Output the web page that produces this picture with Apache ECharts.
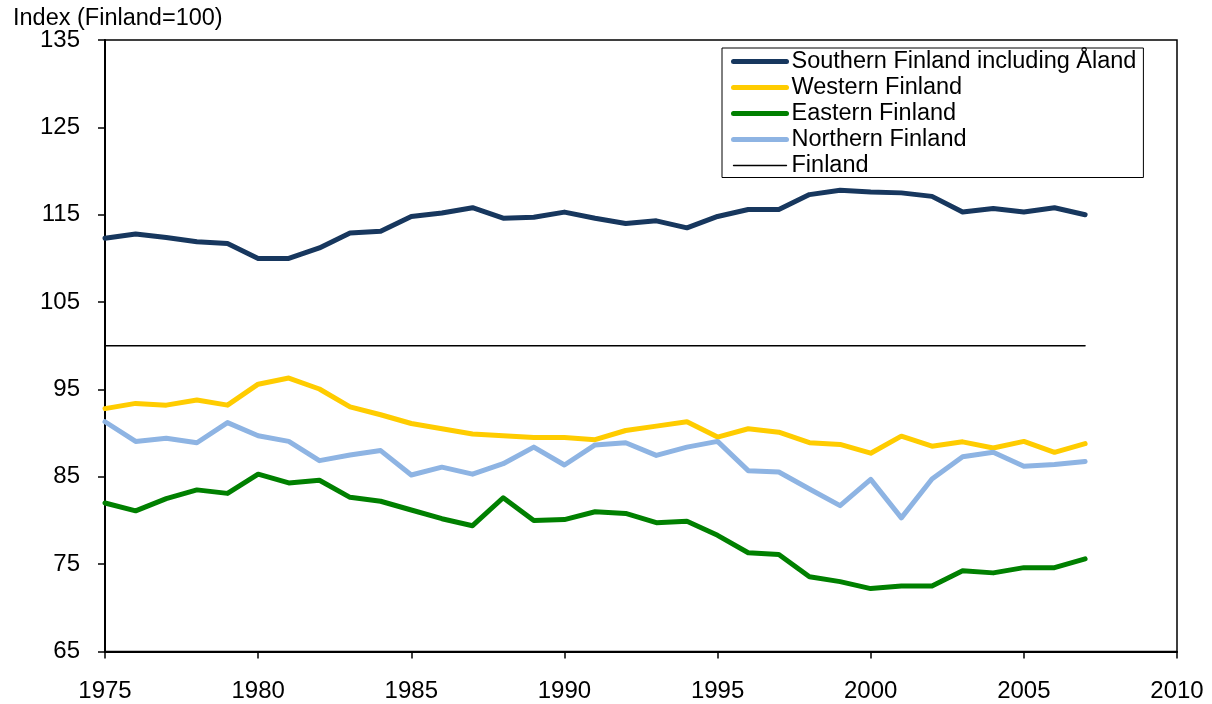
<!DOCTYPE html>
<html>
<head>
<meta charset="utf-8">
<script src="https://cdn.jsdelivr.net/npm/echarts@6/dist/echarts.min.js"></script>
<style>
    html, body { margin: 0; padding: 0; background: #fff; }
    #chart { width: 1212px; height: 704px; }
</style>
</head>
<body>
<div id="chart"></div>
<script>
const years = [];
for (let y = 1975; y <= 2007; y++) years.push(y);

const seriesNames = ['Southern Finland including Åland', 'Western Finland', 'Eastern Finland', 'Northern Finland', 'Finland'];

const southern = [112.3, 112.8, 112.4, 111.9, 111.7, 110.0, 110.0, 111.2, 112.9, 113.1, 114.8, 115.2, 115.8, 114.6, 114.7, 115.3,
    114.6, 114.0, 114.3, 113.5, 114.8, 115.6, 115.6, 117.3, 117.8, 117.6, 117.5, 117.1, 115.3, 115.7, 115.3, 115.8, 115.0];
const western = [92.8, 93.4, 93.2, 93.8, 93.2, 95.6, 96.3, 95.05, 93.0, 92.1, 91.1, 90.5, 89.9, 89.7, 89.5, 89.5,
    89.25, 90.3, 90.8, 91.3, 89.55, 90.5, 90.1, 88.9, 88.7, 87.7, 89.65, 88.5, 89.0, 88.3, 89.05, 87.8, 88.8];
const eastern = [82.0, 81.1, 82.5, 83.5, 83.1, 85.3, 84.3, 84.6, 82.65, 82.2, 81.2, 80.2, 79.4, 82.6, 80.0, 80.1,
    81.0, 80.8, 79.75, 79.9, 78.3, 76.3, 76.1, 73.55, 73.0, 72.2, 72.5, 72.5, 74.25, 74.0, 74.6, 74.6, 75.6];
const northern = [91.3, 89.05, 89.4, 88.9, 91.2, 89.7, 89.05, 86.85, 87.5, 88.0, 85.2, 86.1, 85.3, 86.5, 88.4, 86.35,
    88.65, 88.9, 87.45, 88.4, 89.05, 85.7, 85.55, 83.6, 81.7, 84.7, 80.3, 84.75, 87.3, 87.8, 86.2, 86.4, 86.75];
const finland = years.map(() => 100);

const colors = ['#17375E', '#FFCC00', '#008000', '#8EB4E3', '#000000'];
const widths = [5, 5, 5, 5, 1.3];
const values = [southern, western, eastern, northern, finland];

const font = '"Liberation Sans", Arial, sans-serif';

const chart = echarts.init(document.getElementById('chart'));

chart.setOption({
    animation: false,
    backgroundColor: '#fff',
    title: {
        text: 'Index (Finland=100)',
        left: 13,
        top: 7,
        padding: 0,
        textStyle: {fontFamily: font, fontSize: 23.5, fontWeight: 'normal', color: '#000'}
    },
    grid: {
        left: 105, right: 35, top: 40, bottom: 52.5,
        show: true, borderColor: '#000', borderWidth: 1.5
    },
    legend: {
        orient: 'vertical',
        left: 722,
        top: 48,
        padding: [1.5, 7, 0, 9],
        itemWidth: 53,
        itemHeight: 14,
        itemGap: 2,
        borderColor: '#000',
        borderWidth: 1,
        backgroundColor: '#fff',
        itemStyle: {opacity: 0},
        textStyle: {fontFamily: font, fontSize: 23.5, lineHeight: 23, color: '#000'},
        data: seriesNames.map((name, i) => ({
            name: name,
            lineStyle: {color: colors[i], width: widths[i], cap: 'round'}
        }))
    },
    xAxis: {
        type: 'value',
        min: 1975, max: 2010, interval: 5,
        splitLine: {show: false},
        axisLine: {lineStyle: {color: '#000', width: 2}},
        axisTick: {inside: false, length: 7, lineStyle: {color: '#000', width: 1.5}},
        axisLabel: {margin: 28, color: '#000', fontFamily: font, fontSize: 24, formatter: v => String(v)}
    },
    yAxis: {
        type: 'value',
        min: 65, max: 135, interval: 10,
        splitLine: {show: false},
        axisLine: {show: true, lineStyle: {color: '#000', width: 2}},
        axisTick: {show: true, inside: false, length: 7, lineStyle: {color: '#000', width: 1.5}},
        axisLabel: {margin: 25, color: '#000', fontFamily: font, fontSize: 24}
    },
    series: seriesNames.map((name, i) => ({
        name: name,
        type: 'line',
        symbol: 'none',
        color: colors[i],
        lineStyle: {color: colors[i], width: widths[i], join: 'round', cap: 'round'},
        data: years.map((yr, k) => [yr, values[i][k]])
    }))
});
</script>
</body>
</html>
